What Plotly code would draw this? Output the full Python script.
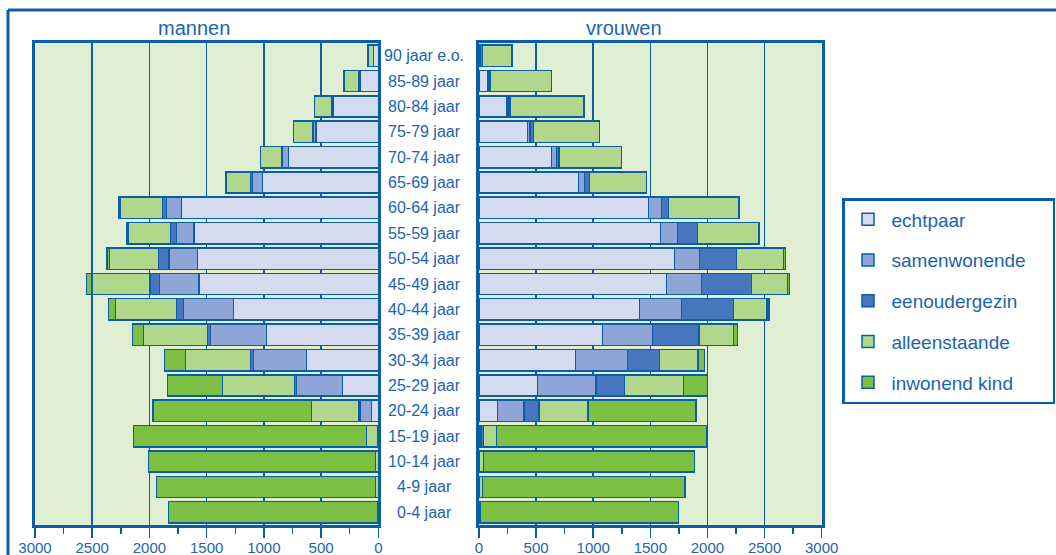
import plotly.graph_objects as go

categories = ["0-4 jaar", "4-9 jaar", "10-14 jaar", "15-19 jaar", "20-24 jaar", "25-29 jaar",
              "30-34 jaar", "35-39 jaar", "40-44 jaar", "45-49 jaar", "50-54 jaar", "55-59 jaar",
              "60-64 jaar", "65-69 jaar", "70-74 jaar", "75-79 jaar", "80-84 jaar", "85-89 jaar",
              "90 jaar e.o."]

series_names = ["echtpaar", "samenwonende", "eenoudergezin", "alleenstaande", "inwonend kind"]

men_echtpaar = [0, 0, 0, 9, 58, 315, 626, 976, 1264, 1567, 1579, 1611, 1719, 1014, 786, 545, 393, 160, 40]
men_samenwonende = [0, 0, 0, 0, 102, 402, 466, 492, 440, 347, 250, 151, 131, 87, 52, 23, 5, 5, 0]
men_eenoudergezin = [0, 0, 0, 0, 15, 15, 23, 26, 58, 79, 93, 52, 35, 15, 6, 9, 10, 10, 2]
men_alleenstaande = [9, 23, 23, 93, 408, 629, 568, 559, 533, 507, 428, 367, 367, 213, 186, 166, 151, 125, 50]
men_inwonend_kind = [1823, 1917, 1986, 2039, 1384, 483, 186, 93, 64, 50, 23, 17, 12, 0, 0, 0, 0, 0, 0]

women_echtpaar = [0, 0, 0, 18, 160, 511, 843, 1080, 1404, 1640, 1710, 1587, 1482, 870, 636, 423, 242, 73, 15]
women_samenwonende = [0, 0, 0, 6, 236, 511, 455, 438, 368, 306, 219, 149, 117, 53, 41, 23, 10, 8, 0]
women_eenoudergezin = [0, 0, 0, 15, 128, 251, 280, 409, 455, 441, 327, 178, 61, 44, 23, 29, 19, 15, 15]
women_alleenstaande = [15, 29, 38, 114, 432, 516, 338, 303, 295, 315, 411, 534, 613, 499, 549, 581, 648, 540, 257]
women_inwonend_kind = [1730, 1774, 1850, 1838, 945, 210, 58, 32, 18, 15, 15, 9, 9, 0, 0, 0, 0, 0, 0]

x_ticks = [0, 500, 1000, 1500, 2000, 2500, 3000]

colors = ["#d4dbee", "#8ea5d5", "#4876bd", "#b1d78c", "#7bc043"]
BLUE = "#0a5ea8"
TEXT = "#1b64b0"
BG = "#e0eed4"
FONT = "Arial, Liberation Sans, sans-serif"

men = [men_echtpaar, men_samenwonende, men_eenoudergezin, men_alleenstaande, men_inwonend_kind]
women = [women_echtpaar, women_samenwonende, women_eenoudergezin, women_alleenstaande, women_inwonend_kind]

W, H = 1056, 555
PAD = "\u00a0" * 4  # widen legend box to match the reference frame
fig = go.Figure()

for i, name in enumerate(series_names):
    fig.add_trace(go.Bar(
        y=categories, x=men[i], orientation="h", name=name + PAD,
        marker=dict(color=colors[i], line=dict(color=BLUE, width=1.5)),
        xaxis="x", yaxis="y", legendgroup=name, showlegend=True,
    ))
for i, name in enumerate(series_names):
    fig.add_trace(go.Bar(
        y=categories, x=women[i], orientation="h", name=name,
        marker=dict(color=colors[i], line=dict(color=BLUE, width=1.5)),
        xaxis="x2", yaxis="y2", legendgroup=name, showlegend=False,
    ))

ydom = [1 - 525 / H, 1 - 43 / H]
axis_common = dict(
    tickvals=x_ticks, ticks="outside", ticklen=10, tickwidth=1.5, tickcolor=BLUE,
    showgrid=True, gridcolor=BLUE, gridwidth=1.5, zeroline=False,
    showline=True, linecolor=BLUE, linewidth=3, mirror=True,
    tickfont=dict(family=FONT, size=15, color=TEXT), ticklabelstandoff=-3,
    minor=dict(dtick=250, ticks="outside", ticklen=6, tickwidth=1.5, tickcolor=BLUE, showgrid=False),
    fixedrange=True, automargin=False,
)
xa1 = dict(axis_common); xa1.update(range=[3000, 0], domain=[35 / W, 378.3 / W], anchor="y")
xa2 = dict(axis_common); xa2.update(range=[0, 3000], domain=[479 / W, 821.7 / W], anchor="y2")

ya_common = dict(domain=ydom, range=[-0.5, 18.5], showticklabels=False, ticks="",
                 showgrid=False, zeroline=False, showline=True, linecolor=BLUE, linewidth=3,
                 mirror=True, categoryorder="array", categoryarray=categories, automargin=False,
                 fixedrange=True)
ya1 = dict(ya_common); ya1.update(anchor="x")
ya2 = dict(ya_common); ya2.update(anchor="x2")

annotations = []
for c in categories:
    annotations.append(dict(x=424 / W, xref="paper", y=c, yref="y", text=c, showarrow=False,
                            xanchor="center", yanchor="middle",
                            font=dict(family=FONT, size=16, color=TEXT)))
annotations.append(dict(x=194 / W, y=1 - 28 / H, xref="paper", yref="paper", text="mannen",
                        showarrow=False, xanchor="center", yanchor="middle",
                        font=dict(family=FONT, size=20, color=TEXT)))
annotations.append(dict(x=624 / W, y=1 - 28 / H, xref="paper", yref="paper", text="vrouwen",
                        showarrow=False, xanchor="center", yanchor="middle",
                        font=dict(family=FONT, size=20, color=TEXT)))

shapes = [
    dict(type="line", xref="paper", yref="paper", x0=8 / W, x1=1.0, y0=1 - 10 / H, y1=1 - 10 / H,
         line=dict(color=BLUE, width=3)),
    dict(type="line", xref="paper", yref="paper", x0=8 / W, x1=8 / W, y0=1 - 10 / H, y1=0,
         line=dict(color=BLUE, width=3)),
]

fig.update_layout(
    width=W, height=H, margin=dict(l=0, r=0, t=0, b=0, autoexpand=False),
    paper_bgcolor="white", plot_bgcolor=BG,
    barmode="stack", bargap=0.16,
    xaxis=xa1, xaxis2=xa2, yaxis=ya1, yaxis2=ya2,
    annotations=annotations, shapes=shapes,
    legend=dict(x=842 / W, y=1 - 198 / H, xanchor="left", yanchor="top",
                bgcolor="white", bordercolor=BLUE, borderwidth=2.5,
                font=dict(family=FONT, size=19, color=TEXT),
                traceorder="grouped", tracegroupgap=13, itemwidth=37),
    showlegend=True,
)

fig.write_html("out.html", config={"displayModeBar": False, "staticPlot": True},
               post_script="document.body.style.margin='0px';document.body.style.overflow='hidden';")
